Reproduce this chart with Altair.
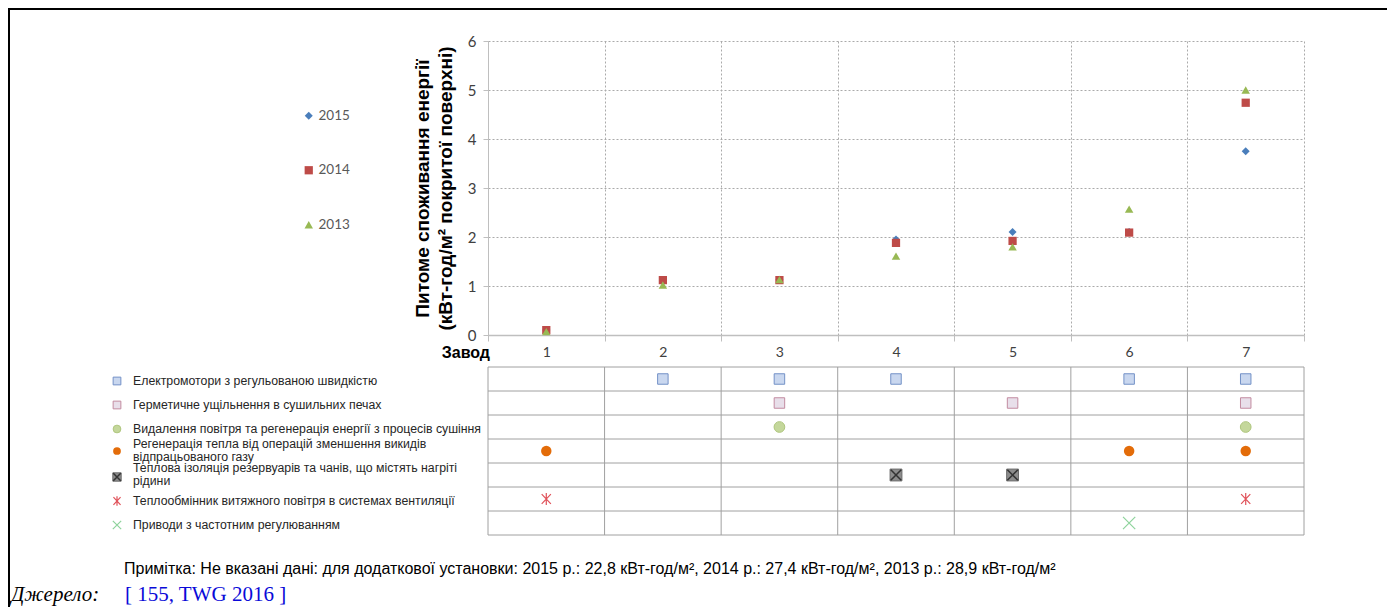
import altair as alt
import pandas as pd

# ---------------- data ----------------
plants = [1, 2, 3, 4, 5, 6, 7]
years = ["2015", "2014", "2013"]
v2015 = [0.10, 1.10, 1.13, 1.95, 2.10, 2.10, 3.75]
v2014 = [0.10, 1.12, 1.12, 1.88, 1.92, 2.09, 4.74]
v2013 = [0.07, 1.02, 1.13, 1.61, 1.80, 2.57, 5.00]

measures = [
    "Електромотори з регульованою швидкістю",
    "Герметичне ущільнення в сушильних печах",
    "Видалення повітря та регенерація енергії з процесів сушіння",
    "Регенерація тепла від операцій зменшення викидів\nвідпрацьованого газу",
    "Теплова ізоляція резервуарів та чанів, що містять нагріті\nрідини",
    "Теплообмінник витяжного повітря в системах вентиляції",
    "Приводи з частотним регулюванням",
]
measure_plants = [
    [2, 3, 4, 6, 7],
    [3, 5, 7],
    [3, 7],
    [1, 6, 7],
    [4, 5],
    [1, 7],
    [6],
]

y_title = ["Питоме споживання енергії", "(кВт-год/м² покритої поверхні)"]
x_title = "Завод"
note = ("Примітка: Не вказані дані: для додаткової установки: 2015 р.: 22,8 кВт-год/м², "
        "2014 р.: 27,4 кВт-год/м², 2013 р.: 28,9 кВт-год/м²")
source_label = "Джерело:"
source_ref = "[ 155, TWG 2016 ]"

# ---------------- tables ----------------
series = {"2015": v2015, "2014": v2014, "2013": v2013}
scatter_df = pd.DataFrame(
    [{"plant": p, "year": y, "value": v} for y in years for p, v in zip(plants, series[y])]
)
n_rows = len(measures)
label_df = pd.DataFrame({
    "label": measures,
    "row": [i + 0.5 for i in range(n_rows)],
    "multi": ["\n" in m for m in measures],
})
hline_df = pd.DataFrame({"b": list(range(n_rows + 1))})
vline_df = pd.DataFrame({"plant": plants})

W, H = 816, 294

X_SCALE = alt.Scale(type="band", domain=plants, paddingInner=0, paddingOuter=0)
X_AXIS = alt.Axis(
    title=None, labelAngle=0, tickBand="extent", grid=True, gridDash=[2, 2],
    gridColor="#AAAAAA", gridWidth=1, tickColor="#BFBFBF", tickSize=6,
    domainColor="#BFBFBF", domainWidth=1.5, labelColor="#404040",
    labelFontSize=14, labelFont="Lato", labelPadding=4,
)


def xenc(**kw):
    return alt.X("plant:O", scale=X_SCALE, axis=X_AXIS, **kw)


ROW_SCALE = alt.Scale(domain=[0, n_rows], range=[326, 494], nice=False, zero=False)


def yrow(field):
    return alt.Y(f"{field}:Q", scale=ROW_SCALE, axis=None)


legend = alt.Legend(
    title=None, orient="none", legendX=-186, legendY=68, labelFontSize=13.5,
    labelColor="#595959", labelFont="Lato", rowPadding=39.5, symbolSize=50,
    labelOffset=3, padding=0,
)

scatter = alt.Chart(scatter_df).mark_point(filled=True, opacity=1).encode(
    x=xenc(),
    y=alt.Y(
        "value:Q",
        scale=alt.Scale(domain=[0, 6], nice=False),
        axis=alt.Axis(
            values=[0, 1, 2, 3, 4, 5, 6], title=y_title, titleFontSize=19,
            titleFont="Liberation Sans", titleFontWeight="bold", titleColor="black",
            titleLineHeight=23, titlePadding=12, grid=True, gridDash=[2, 2],
            gridColor="#AAAAAA", tickSize=5, tickColor="#BFBFBF",
            domainColor="#BFBFBF", labelColor="#404040", labelFontSize=15,
            labelFont="Lato", labelPadding=7,
        ),
    ),
    color=alt.Color("year:N", scale=alt.Scale(domain=years, range=["#4A7EBB", "#BE4B48", "#98B954"]), legend=legend),
    shape=alt.Shape("year:N", scale=alt.Scale(domain=years, range=["diamond", "square", "triangle-up"]), legend=legend),
    size=alt.Size("year:N", scale=alt.Scale(domain=years, range=[64, 72, 80]), legend=None),
    order=alt.Order("order:Q"),
).transform_calculate(order="datum.year == '2015' ? 0 : (datum.year == '2014' ? 1 : 2)")

zavod = alt.Chart(pd.DataFrame({"t": [x_title]})).mark_text(
    align="right", baseline="middle", fontSize=16, fontWeight="bold",
    font="Liberation Sans", color="black",
).encode(x=alt.value(2), y=alt.value(312), text="t:N")

plot_layer = alt.layer(scatter, zavod)

# table grid
hlines = alt.Chart(hline_df).mark_rule(color="#A0A0A0", strokeWidth=1).encode(
    y=yrow("b"), x=alt.value(0), x2=alt.value("width")
)
vlines = alt.Chart(vline_df).mark_rule(color="#A0A0A0", strokeWidth=1).encode(
    x=xenc(bandPosition=0),
    y=alt.YDatum(0, type="quantitative", scale=ROW_SCALE, axis=None),
    y2=alt.Y2Datum(n_rows),
)
vline_end = alt.Chart(pd.DataFrame({"b": [0]})).mark_rule(color="#A0A0A0", strokeWidth=1).encode(
    x=alt.value("width"),
    y=alt.YDatum(0, type="quantitative", scale=ROW_SCALE, axis=None),
    y2=alt.Y2Datum(n_rows),
)

label_props = dict(align="left", baseline="middle", fontSize=12.3, font="Liberation Sans",
                   color="#262626", lineBreak="\n", lineHeight=12.5)
labels_single = alt.Chart(label_df).transform_filter("!datum.multi").mark_text(
    dy=2, **label_props
).encode(x=alt.value(-355), y=yrow("row"), text="label:N")
labels_multi = alt.Chart(label_df).transform_filter("datum.multi").mark_text(
    dy=-7, **label_props
).encode(x=alt.value(-355), y=yrow("row"), text="label:N")

# marker styles per measure (table cell, left legend)
styles = [
    [dict(shape="square", fill="#C9D7EF", stroke="#7391C7", strokeWidth=1, filled=True, size=(110, 60))],
    [dict(shape="square", fill="#E8DFEA", stroke="#C28BA0", strokeWidth=1, filled=True, size=(110, 60))],
    [dict(shape="circle", fill="#C4D79B", stroke="#AFC67E", strokeWidth=1, filled=True, size=(115, 60))],
    [dict(shape="circle", fill="#E36C09", stroke="#E36C09", strokeWidth=0, filled=True, size=(110, 60))],
    [dict(shape="square", fill="#8C8C8C", stroke="#6A6A6A", strokeWidth=1, filled=True, size=(140, 70)),
     dict(shape="M-1,-1L1,1M-1,1L1,-1", stroke="#333333", strokeWidth=1.5, filled=False, size=(110, 55))],
    [dict(shape="M0,-1L0,1M-0.75,-0.8L0.75,0.8M-0.75,0.8L0.75,-0.8", stroke="#E0525A", strokeWidth=1.2, filled=False, size=(150, 90))],
    [dict(shape="M-1,-1L1,1M-1,1L1,-1", stroke="#8ED39C", strokeWidth=1.2, filled=False, size=(150, 70))],
]
key_dy = [2, 2, 2, 0, 2, 2, 2]

marker_layers = []
for i, (m, pl) in enumerate(zip(measures, measure_plants)):
    cell_df = pd.DataFrame({"plant": pl, "row": [i + 0.5] * len(pl)})
    key_df = pd.DataFrame({"row": [i + 0.5]})
    for st in styles[i]:
        props = dict(shape=st["shape"], stroke=st["stroke"], strokeWidth=st["strokeWidth"],
                     filled=st["filled"], opacity=1)
        if st["filled"]:
            props["fill"] = st["fill"]
        big, small = st["size"]
        marker_layers.append(
            alt.Chart(cell_df).mark_point(size=big, **props).encode(x=xenc(), y=yrow("row"))
        )
        marker_layers.append(
            alt.Chart(key_df).mark_point(size=small, yOffset=key_dy[i], **props).encode(
                x=alt.value(-371), y=yrow("row"))
        )

table_layer = alt.layer(hlines, vlines, vline_end, labels_single, labels_multi, *marker_layers)

# note, source, frame
note_txt = alt.Chart(pd.DataFrame({"t": [note]})).mark_text(
    align="left", baseline="middle", fontSize=16, font="Liberation Sans", color="black"
).encode(x=alt.value(-364), y=alt.value(528), text="t:N")
src1 = alt.Chart(pd.DataFrame({"t": [source_label]})).mark_text(
    align="left", baseline="alphabetic", fontSize=21, font="Liberation Serif",
    fontStyle="italic", color="black",
).encode(x=alt.value(-477), y=alt.value(560), text="t:N")
src2 = alt.Chart(pd.DataFrame({"t": [source_ref]})).mark_text(
    align="left", baseline="alphabetic", fontSize=21, font="Liberation Serif", color="#0A0AD8",
).encode(x=alt.value(-363), y=alt.value(560), text="t:N")
frame_top = alt.Chart(pd.DataFrame({"b": [0]})).mark_rule(color="black", strokeWidth=2).encode(
    x=alt.value(-480), x2=alt.value(W + 83), y=alt.value(-32)
)
frame_left = alt.Chart(pd.DataFrame({"b": [0]})).mark_rule(color="black", strokeWidth=2).encode(
    x=alt.value(-479), y=alt.value(-33), y2=alt.value(H + 272)
)
extra_layer = alt.layer(note_txt, src1, src2, frame_top, frame_left)

chart = alt.layer(plot_layer, table_layer, extra_layer).resolve_scale(
    y="independent"
).properties(
    width=W, height=H,
    padding={"left": 480, "top": 33, "right": 83, "bottom": 272},
    autosize=alt.AutoSizeParams(type="none"),
    background="white",
).configure_view(stroke=None)

chart.save("out.html", embed_options={"renderer": "svg", "actions": False})
